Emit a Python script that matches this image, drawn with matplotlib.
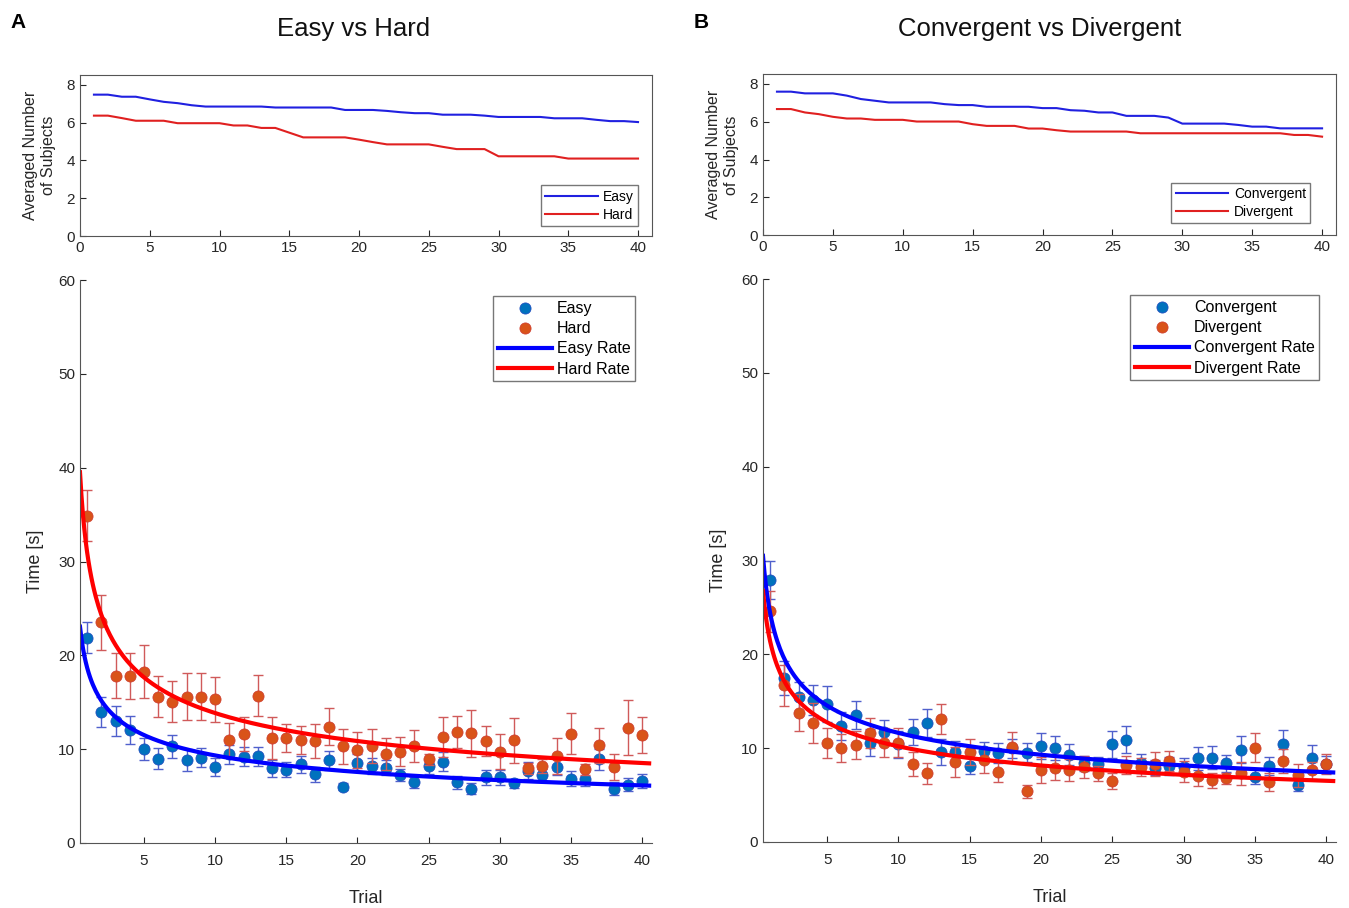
import numpy as np
import matplotlib
matplotlib.use("Agg")
import matplotlib.pyplot as plt

plt.rcParams["font.family"] = ["Liberation Sans", "DejaVu Sans"]

trials = np.arange(1, 41)

# top panels: averaged number of subjects per trial
easy_subjects = [7.48, 7.48, 7.37, 7.37, 7.23, 7.1, 7.03, 6.92, 6.85, 6.85,
                 6.85, 6.85, 6.85, 6.8, 6.8, 6.8, 6.8, 6.8, 6.67, 6.67,
                 6.67, 6.62, 6.55, 6.5, 6.5, 6.42, 6.42, 6.42, 6.37, 6.3,
                 6.3, 6.3, 6.3, 6.23, 6.23, 6.23, 6.15, 6.08, 6.08, 6.03]
hard_subjects = [6.37, 6.37, 6.24, 6.1, 6.1, 6.1, 5.97, 5.97, 5.97, 5.97,
                 5.85, 5.85, 5.72, 5.72, 5.47, 5.22, 5.22, 5.22, 5.22, 5.1,
                 4.97, 4.85, 4.85, 4.85, 4.85, 4.72, 4.6, 4.6, 4.6, 4.22,
                 4.22, 4.22, 4.22, 4.22, 4.1, 4.1, 4.1, 4.1, 4.1, 4.1]
conv_subjects = [7.59, 7.59, 7.5, 7.5, 7.5, 7.38, 7.2, 7.11, 7.02, 7.02,
                 7.02, 7.02, 6.93, 6.88, 6.88, 6.79, 6.79, 6.79, 6.79, 6.72,
                 6.72, 6.61, 6.58, 6.49, 6.49, 6.31, 6.31, 6.31, 6.22, 5.9,
                 5.9, 5.9, 5.9, 5.83, 5.74, 5.74, 5.65, 5.65, 5.65, 5.65]
div_subjects = [6.67, 6.67, 6.49, 6.4, 6.26, 6.17, 6.17, 6.1, 6.1, 6.1,
                6.01, 6.01, 6.01, 6.01, 5.87, 5.78, 5.78, 5.78, 5.64, 5.64,
                5.55, 5.48, 5.48, 5.48, 5.48, 5.48, 5.39, 5.39, 5.39, 5.39,
                5.39, 5.39, 5.39, 5.39, 5.39, 5.39, 5.39, 5.3, 5.3, 5.21]

# bottom panels: mean time [s] and error per trial
easy_time = [21.9, 14.0, 13.0, 12.05, 10.0, 9.0, 10.3, 8.85, 9.1, 8.1,
             9.45, 9.2, 9.25, 7.95, 7.8, 8.4, 7.35, 8.8, 6.0, 8.55,
             8.2, 8.0, 7.25, 6.45, 8.2, 8.65, 6.45, 5.8, 7.0, 7.0,
             6.35, 7.7, 7.25, 8.1, 6.85, 6.85, 8.9, 5.8, 6.2, 6.6]
easy_err = [1.6, 1.6, 1.6, 1.5, 1.15, 1.1, 1.2, 1.2, 1.0, 1.0,
            1.0, 1.0, 1.0, 0.9, 0.8, 0.9, 0.8, 1.0, 0.4, 0.9,
            0.9, 0.8, 0.6, 0.6, 0.8, 1.0, 0.7, 0.6, 0.8, 0.8,
            0.5, 0.9, 0.6, 0.9, 0.8, 0.8, 1.1, 0.7, 0.7, 0.7]
hard_time = [34.9, 23.5, 17.8, 17.8, 18.25, 15.6, 15.05, 15.6, 15.6, 15.3,
             11.0, 11.65, 15.7, 11.2, 11.2, 10.95, 10.9, 12.4, 10.3, 9.9,
             10.3, 9.5, 9.75, 10.3, 8.9, 11.3, 11.8, 11.7, 10.9, 9.75,
             10.95, 7.95, 8.2, 9.25, 11.65, 7.85, 10.4, 8.1, 12.3, 11.5]
hard_err = [2.7, 2.9, 2.4, 2.5, 2.8, 2.2, 2.2, 2.5, 2.5, 2.4,
            1.8, 1.8, 2.2, 2.2, 1.5, 1.5, 1.8, 2.0, 1.9, 1.9,
            1.8, 1.7, 1.5, 1.7, 0.6, 2.1, 1.7, 2.5, 1.6, 1.9,
            2.4, 0.6, 0.7, 1.9, 2.2, 0.6, 1.9, 1.4, 2.9, 1.9]
conv_time = [27.9, 17.5, 15.5, 15.1, 14.7, 12.4, 13.5, 10.6, 11.7, 10.4,
             11.7, 12.7, 9.6, 9.6, 8.1, 9.7, 9.5, 10.0, 9.5, 10.2,
             10.0, 9.3, 8.4, 8.3, 10.4, 10.9, 8.4, 7.9, 8.1, 8.0,
             8.9, 9.0, 8.4, 9.85, 6.95, 8.1, 10.4, 6.05, 9.0, 8.3]
conv_err = [2.0, 1.8, 1.6, 1.6, 1.9, 1.5, 1.5, 1.4, 1.3, 1.4,
            1.4, 1.5, 1.4, 1.2, 0.9, 1.0, 1.1, 1.0, 1.0, 1.4,
            1.3, 1.1, 0.8, 0.8, 1.4, 1.45, 1.0, 0.8, 1.0, 0.9,
            1.2, 1.2, 0.9, 1.4, 0.8, 1.0, 1.5, 0.6, 1.3, 0.9]
div_time = [24.6, 16.7, 13.8, 12.7, 10.6, 10.0, 10.3, 11.6, 10.6, 10.6,
            8.3, 7.3, 13.1, 8.5, 9.6, 8.7, 7.5, 10.1, 5.4, 7.7,
            7.9, 7.65, 8.0, 7.3, 6.5, 8.2, 8.0, 8.3, 8.65, 7.5,
            7.0, 6.6, 6.8, 7.3, 10.05, 6.4, 8.65, 7.1, 7.65, 8.3]
div_err = [2.2, 2.2, 2.0, 2.1, 1.6, 1.5, 1.5, 1.6, 1.5, 1.5,
           1.3, 1.1, 1.6, 1.6, 1.4, 1.3, 1.1, 1.6, 0.7, 1.4,
           1.3, 1.2, 1.2, 0.8, 0.8, 1.0, 1.0, 1.3, 1.1, 1.1,
           1.0, 0.8, 0.6, 1.2, 1.55, 1.0, 1.3, 1.2, 0.9, 1.1]

# power-law learning rate fits  t = a * trial^b
easy_rate = (18.7, -0.302)
hard_rate = (31.0, -0.350)
conv_rate = (24.4, -0.322)
div_rate = (21.4, -0.322)

PT_BLUE = "#0072BD"
PT_ORANGE = "#D95319"
ERR_BLUE = "#5060cc"
ERR_RED = "#d05a5a"
TXT = "#262626"

fig = plt.figure(figsize=(13.49, 9.08), dpi=100)


def style(ax, box=True):
    ax.tick_params(direction="in", labelsize=11, colors=TXT, length=4)
    for side in ["top", "right"]:
        ax.spines[side].set_visible(box)
    for sp in ax.spines.values():
        sp.set_color("#555555")
        sp.set_linewidth(0.8)


def top_panel(rect, a, b, labels, leg_anchor):
    ax = fig.add_axes(rect)
    ax.plot(trials, a, color="#2020e0", lw=1.5, label=labels[0])
    ax.plot(trials, b, color="#e02020", lw=1.5, label=labels[1])
    ax.set_xlim(0, 41)
    ax.set_ylim(0, 8.5)
    ax.set_xticks(range(0, 41, 5))
    ax.set_yticks(range(0, 9, 2))
    ax.set_ylabel("Averaged Number\nof Subjects", fontsize=11.5, color=TXT,
                  labelpad=8)
    leg = ax.legend(loc="lower right", fontsize=10, handlelength=3.8,
                    fancybox=False, borderpad=0.3, labelspacing=0.3,
                    handletextpad=0.4, alignment="right",
                    bbox_to_anchor=leg_anchor)
    leg.get_frame().set_edgecolor("#555555")
    for t in leg.get_texts():
        t.set_ha("right")
    style(ax)
    return ax


def bottom_panel(rect, t1, e1, t2, e2, r1, r2, labels):
    ax = fig.add_axes(rect)
    ax.errorbar(trials, t1, yerr=e1, fmt="none", ecolor=ERR_BLUE,
                elinewidth=1, capsize=3.5, capthick=1)
    ax.plot(trials, t1, "o", ms=8, color=PT_BLUE, mec="#2050c0",
            mew=0.6, ls="none", label=labels[0])
    ax.errorbar(trials, t2, yerr=e2, fmt="none", ecolor=ERR_RED,
                elinewidth=1, capsize=3.5, capthick=1)
    ax.plot(trials, t2, "o", ms=8, color=PT_ORANGE, mec="#d04030",
            mew=0.6, ls="none", label=labels[1])
    xs = np.linspace(0.5, 40.5, 400)
    ax.plot(xs, r1[0] * xs ** r1[1], color="#0000ff", lw=3,
            label=labels[2])
    ax.plot(xs, r2[0] * xs ** r2[1], color="#ff0000", lw=3,
            label=labels[3])
    ax.set_xlim(0.5, 40.7)
    ax.set_ylim(0, 60)
    ax.set_xticks(range(5, 41, 5))
    ax.set_yticks(range(0, 61, 10))
    ax.set_xlabel("Trial", fontsize=13, color=TXT, labelpad=16)
    ax.set_ylabel("Time [s]", fontsize=13, color=TXT, labelpad=10)
    leg = ax.legend(loc="upper right", fontsize=11.5, handlelength=3.4,
                    fancybox=False, borderpad=0.3, labelspacing=0.32,
                    handletextpad=0.3, bbox_to_anchor=(0.985, 0.985))
    leg.get_frame().set_edgecolor("#555555")
    style(ax, box=False)
    ax.tick_params(axis="x", pad=8)
    return ax


ax1 = top_panel([0.0593, 0.740, 0.424, 0.177], easy_subjects, hard_subjects,
                ["Easy", "Hard"], (0.988, 0.02))
ax2 = top_panel([0.5656, 0.741, 0.4248, 0.177], conv_subjects, div_subjects,
                ["Convergent", "Divergent"], (0.967, 0.03))
ax3 = bottom_panel([0.0593, 0.0716, 0.424, 0.620], easy_time, easy_err,
                   hard_time, hard_err, easy_rate, hard_rate,
                   ["Easy", "Hard", "Easy Rate", "Hard Rate"])
ax4 = bottom_panel([0.5656, 0.0727, 0.4248, 0.620], conv_time, conv_err,
                   div_time, div_err, conv_rate, div_rate,
                   ["Convergent", "Divergent", "Convergent Rate",
                    "Divergent Rate"])

fig.text(0.262, 0.968, "Easy vs Hard", fontsize=18.5, ha="center",
         va="center", color="#111111")
fig.text(0.771, 0.968, "Convergent vs Divergent", fontsize=18.5, ha="center",
         va="center", color="#111111")
fig.text(0.008, 0.975, "A", fontsize=15, fontweight="bold", va="center")
fig.text(0.514, 0.975, "B", fontsize=15, fontweight="bold", va="center")

fig.savefig("out.png", dpi=100)
